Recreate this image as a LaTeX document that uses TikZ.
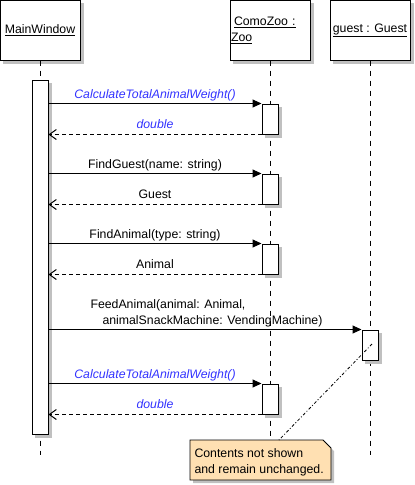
\documentclass[tikz,border=0pt]{standalone}
\usepackage{fontspec}
\setmainfont{Liberation Sans}
\usetikzlibrary{arrows.meta,calc}
\definecolor{msgblue}{RGB}{51,51,255}
\definecolor{notefill}{RGB}{255,224,178}
\definecolor{shadowgray}{RGB}{192,192,192}
\begin{document}
\begin{tikzpicture}[x=1pt,y=-1pt,line width=1pt,
  font=\fontsize{12.3}{14}\selectfont,
  boxshadow/.style={preaction={draw=shadowgray,fill=shadowgray,transform canvas={shift={(3pt,-3pt)}}}},
  objbox/.style={draw,fill=white,minimum width=80pt,minimum height=60pt,inner sep=0pt,boxshadow},
  actbox/.style={draw,fill=white,minimum width=16pt,inner sep=0pt,boxshadow},
  lifeline/.style={dash pattern=on 5pt off 5pt},
  callmsg/.style={-{Triangle[length=9pt,width=8pt]}},
  retmsg/.style={dash pattern=on 4pt off 3pt,-{Straight Barb[length=7pt,width=10pt]}},
  lbl/.style={inner sep=0pt,anchor=base},
  bluelbl/.style={lbl,text=msgblue,font=\fontsize{12.3}{14}\selectfont\itshape},
  notelink/.style={line width=0.8pt,dash pattern=on 3pt off 2pt on 1pt off 2pt}]
\useasboundingbox (0,0) rectangle (415,485);
% objects
\node[objbox] (mw) at (40,30) {\underline{MainWindow}};
\node[objbox,text width=78pt,align=left,font=\fontsize{12.3}{16}\selectfont] (zoo) at (270,30) {\hspace*{3pt}\underline{ComoZoo :}\\\underline{Zoo}};
\node[objbox] (guest) at (370,30) {\underline{guest : Guest}};
% lifeline ends
\coordinate (mwend) at (40,455);
\coordinate (zooend) at (270,440);
\coordinate (guestend) at (370,455);
\draw[lifeline] (mw.south) -- (mwend);
\draw[lifeline] (zoo.south) -- (zooend);
\draw[lifeline] (guest.south) -- (guestend);
% activations
\node[actbox,minimum height=354pt] (ma) at (40,257) {};
\node[actbox,minimum height=30pt] (z1) at (270,119) {};
\node[actbox,minimum height=30pt] (z2) at (270,189) {};
\node[actbox,minimum height=30pt] (z3) at (270,259) {};
\node[actbox,minimum height=30pt] (g1) at (370,345) {};
\node[actbox,minimum height=30pt] (z4) at (270,399) {};
% messages
\draw[callmsg] (ma.east |- z1.north) -- (z1.north west);
\draw[retmsg] (z1.south west) -- (ma.east |- z1.south);
\node[bluelbl] (l1) at (155,98.5) {CalculateTotalAnimalWeight()};
\node[bluelbl] (r1) at (155,128) {double};

\draw[callmsg] (ma.east |- z2.north) -- (z2.north west);
\draw[retmsg] (z2.south west) -- (ma.east |- z2.south);
\node[lbl] (l2) at (155,168) {FindGuest(name: string)};
\node[lbl] (r2) at (155,198) {Guest};

\draw[callmsg] (ma.east |- z3.north) -- (z3.north west);
\draw[retmsg] (z3.south west) -- (ma.east |- z3.south);
\node[lbl] (l3) at (155,238) {FindAnimal(type: string)};
\node[lbl] (r3) at (155,268) {Animal};

\draw[callmsg] (ma.east |- g1.north) -- (g1.north west);
\node[lbl,anchor=base west] (l4a) at (90,308.5) {FeedAnimal(animal: Animal,};
\node[lbl,anchor=base west] (l4b) at (102,324.5) {animalSnackMachine: VendingMachine)};

\draw[callmsg] (ma.east |- z4.north) -- (z4.north west);
\draw[retmsg] (z4.south west) -- (ma.east |- z4.south);
\node[bluelbl] (l5) at (155,378.5) {CalculateTotalAnimalWeight()};
\node[bluelbl] (r5) at (155,408) {double};
% note
\node[anchor=north west,minimum width=140pt,minimum height=39pt,inner sep=0pt] (note) at (190,440) {};
\fill[shadowgray] ($(note.north west)+(3,3)$) -- ($(note.north east)+(-5,3)$) -- ($(note.north east)+(3,11)$) -- ($(note.south east)+(3,3)$) -- ($(note.south west)+(3,3)$) -- cycle;
\filldraw[fill=notefill,line width=0.8pt] (note.north west) -- ($(note.north east)+(-8,0)$) -- ($(note.north east)+(0,8)$) -- (note.south east) -- (note.south west) -- cycle;
\node[lbl,anchor=base west] (nt1) at (194,457) {Contents not shown};
\node[lbl,anchor=base west] (nt2) at (194,473) {and remain unchanged.};
\coordinate (linkstart) at (372,344);
\draw[notelink] (linkstart) -- ($(note.north west)+(89,0)$);
\end{tikzpicture}
\end{document}
